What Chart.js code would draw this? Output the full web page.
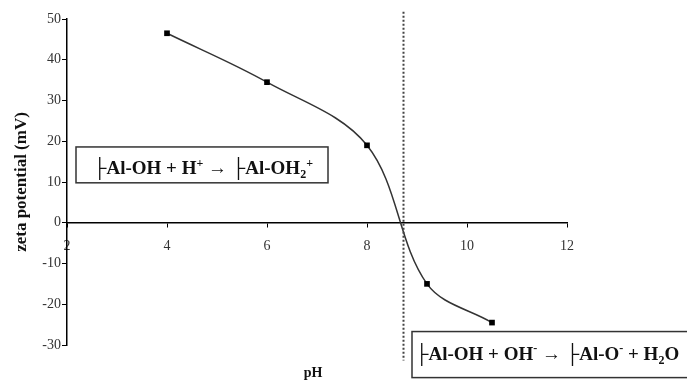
<!DOCTYPE html>
<html>
<head>
<meta charset="utf-8">
<script src="https://cdn.jsdelivr.net/npm/chart.js@4/dist/chart.umd.min.js"></script>
<style>
  html, body { margin: 0; padding: 0; background: #fff; }
  #wrap { width: 687px; height: 385px; position: relative; }
</style>
</head>
<body>
<div id="wrap"><canvas id="c"></canvas></div>
<script>
// Zeta potential of alumina surface versus pH
const phValues   = [4, 6, 8, 9.2, 10.5];
const zetaValues = [46.5, 34.5, 19, -15, -24.5];

// Axis ranges and tick steps
const xRange = [2, 12];
const xStep = 2;
const yRange = [-30, 50];
const yStep = 10;

// Isoelectric point (dotted vertical marker)
const iepPH = 8.73;

// Reaction labels: text segments (n = normal, sup = superscript, sub = subscript)
const acidReaction = [
  ['n', '\u251CAl-OH + H'], ['sup', '+'], ['n', ' \u2192 \u251CAl-OH'], ['sub', '2'], ['sup', '+']
];
const baseReaction = [
  ['n', '\u251CAl-OH + OH'], ['sup', '-'], ['n', ' \u2192 \u251CAl-O'], ['sup', '-'], ['n', ' + H'], ['sub', '2'], ['n', 'O']
];

const SERIF = '"Liberation Serif", "DejaVu Serif", serif';

function drawRich(ctx, x, y, segs, size) {
  ctx.textBaseline = 'alphabetic';
  ctx.textAlign = 'left';
  let cx = x;
  for (const [kind, txt] of segs) {
    let fs = size, dy = 0;
    if (kind === 'sup') { fs = Math.round(size * 0.62); dy = -size * 0.38; }
    if (kind === 'sub') { fs = Math.round(size * 0.62); dy = size * 0.22; }
    ctx.font = 'bold ' + fs + 'px ' + SERIF;
    ctx.fillText(txt, cx, y + dy);
    cx += ctx.measureText(txt).width;
  }
  return cx - x;
}

const decorations = {
  id: 'decorations',
  afterDatasetsDraw(chart) {
    const { ctx, scales: { x, y } } = chart;
    ctx.save();

    // dotted line at the isoelectric point
    const px = x.getPixelForValue(iepPH);
    ctx.strokeStyle = '#444';
    ctx.lineWidth = 2;
    ctx.setLineDash([2, 2]);
    ctx.beginPath();
    ctx.moveTo(px, y.getPixelForValue(51.8));
    ctx.lineTo(px, y.getPixelForValue(-33.8));
    ctx.stroke();
    ctx.setLineDash([]);

    // reaction boxes
    ctx.strokeStyle = '#333';
    ctx.lineWidth = 1.5;

    const b1x = x.getPixelForValue(2.18), b1y = y.getPixelForValue(18.6);
    const b1r = x.getPixelForValue(7.22), b1b = y.getPixelForValue(9.8);
    ctx.fillStyle = '#fff';
    ctx.fillRect(b1x, b1y, b1r - b1x, b1b - b1y);
    ctx.strokeRect(b1x, b1y, b1r - b1x, b1b - b1y);
    ctx.fillStyle = '#111';
    drawRich(ctx, b1x + 17, b1y + 27, acidReaction, 19);

    const b2x = x.getPixelForValue(8.9), b2y = y.getPixelForValue(-26.7);
    const b2b = y.getPixelForValue(-38);
    ctx.fillStyle = '#fff';
    ctx.fillRect(b2x, b2y, 700 - b2x, b2b - b2y);
    ctx.strokeRect(b2x, b2y, 700 - b2x, b2b - b2y);
    ctx.fillStyle = '#111';
    drawRich(ctx, b2x + 3, b2y + 28, baseReaction, 19);

    // x axis title
    ctx.font = 'bold 14px ' + SERIF;
    ctx.textAlign = 'center';
    ctx.textBaseline = 'middle';
    ctx.fillText('pH', (x.left + x.right) / 2 - 4, 373);

    ctx.restore();
  }
};

new Chart(document.getElementById('c'), {
  type: 'scatter',
  data: {
    datasets: [{
      data: phValues.map((v, i) => ({ x: v, y: zetaValues[i] })),
      showLine: true,
      tension: 0.35,
      borderColor: '#333',
      borderWidth: 1.5,
      pointStyle: 'rect',
      pointRadius: 4,
      pointBackgroundColor: '#000',
      pointBorderColor: '#000',
      pointBorderWidth: 0
    }]
  },
  options: {
    responsive: true,
    maintainAspectRatio: false,
    animation: false,
    layout: { padding: { top: 19, right: 120, bottom: 40, left: 0 } },
    plugins: { legend: { display: false }, tooltip: { enabled: false } },
    scales: {
      x: {
        type: 'linear',
        min: xRange[0], max: xRange[1],
        position: { y: 0 },
        ticks: { stepSize: xStep, color: '#333', padding: 11, font: { family: SERIF, size: 14 } },
        grid: { drawOnChartArea: false, drawTicks: true, tickLength: 4, color: '#000' },
        border: { color: '#000', width: 1.5 }
      },
      y: {
        min: yRange[0], max: yRange[1],
        afterFit(scale) { scale.width = 67; },
        ticks: { stepSize: yStep, color: '#333', padding: 1, font: { family: SERIF, size: 14 } },
        grid: { drawOnChartArea: false, drawTicks: true, tickLength: 5, color: '#000' },
        border: { color: '#000', width: 1.5 },
        title: { display: true, text: 'zeta potential (mV)', color: '#111', padding: 11,
                 font: { family: SERIF, size: 17, weight: 'bold' } }
      }
    }
  },
  plugins: [decorations]
});
</script>
</body>
</html>
